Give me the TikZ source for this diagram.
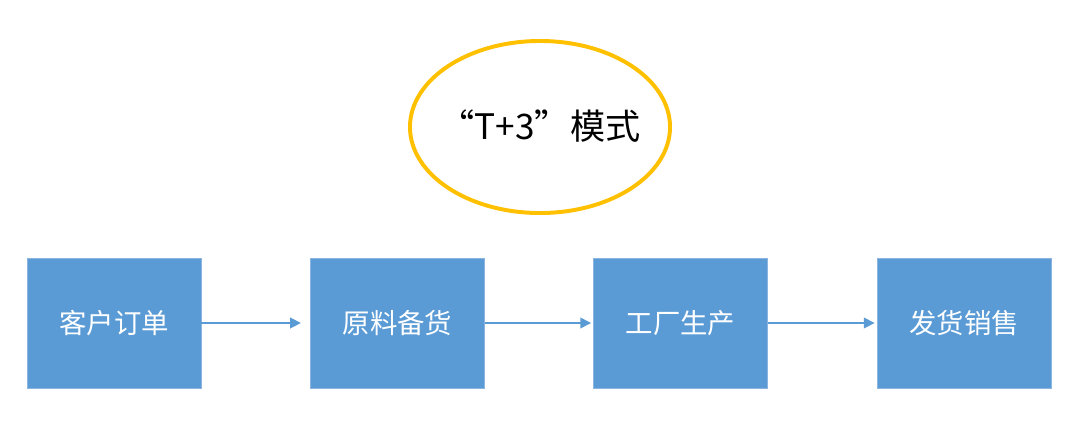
\documentclass[tikz,border=0pt]{standalone}
\usepackage{fontspec}
\setmainfont{Noto Sans CJK SC}
\usetikzlibrary{arrows.meta,shapes.geometric}
\definecolor{boxblue}{HTML}{5B9BD5}
\definecolor{boxedge}{HTML}{8CB4E0}
\definecolor{ringyellow}{HTML}{FFC000}
\begin{document}
\begin{tikzpicture}[x=0.025cm,y=-0.025cm,
  procbox/.style={fill=boxblue,draw=boxedge,line width=0.6pt,minimum width=4.35cm,minimum height=3.25cm,inner sep=0pt,text=white,font=\fontsize{19.5pt}{22pt}\selectfont},
  flow/.style={draw=boxblue,line width=1.1pt,-{Triangle[length=0.27cm,width=0.27cm]}}]
\useasboundingbox (0,0) rectangle (1080,422);
\node[draw=ringyellow,line width=2.8pt,ellipse,minimum width=6.5cm,minimum height=4.3cm,inner sep=0pt] (ring) at (540,127) {};
\node[font=\fontsize{25pt}{28pt}\selectfont,inner sep=0pt] (title) at (540,126) {“T+3”模式};
\node[procbox] (b1) at (114,323) {客户订单};
\node[procbox] (b2) at (397.5,323) {原料备货};
\node[procbox] (b3) at (680.5,323) {工厂生产};
\node[procbox] (b4) at (964,323) {发货销售};
\draw[flow,shorten >=0.23cm] (b1) -- (b2);
\draw[flow,shorten >=0.05cm] (b2) -- (b3);
\draw[flow,shorten >=0.05cm] (b3) -- (b4);
\end{tikzpicture}
\end{document}
